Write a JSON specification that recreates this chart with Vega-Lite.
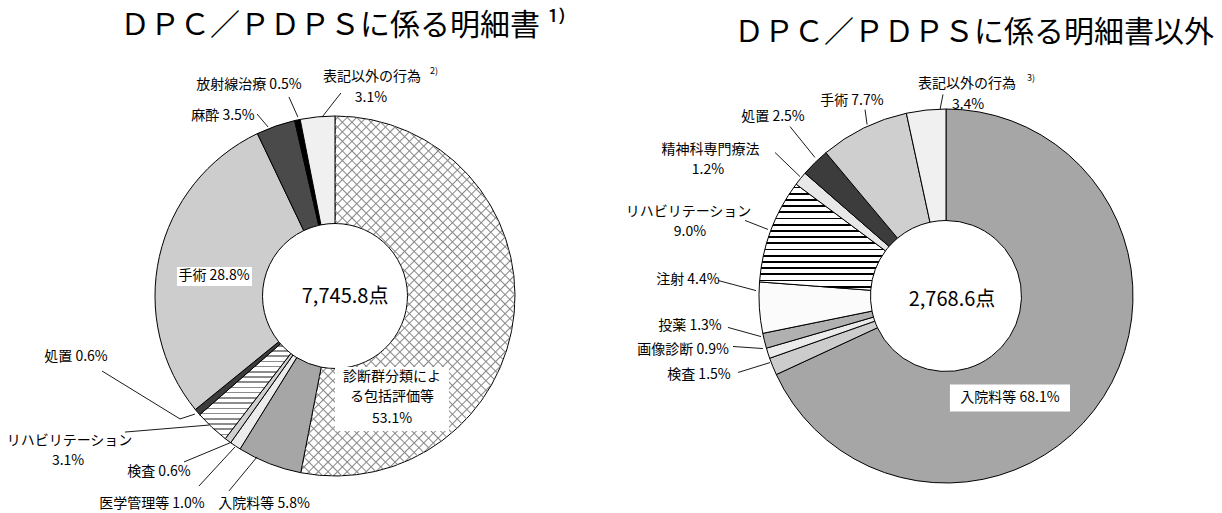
{
  "$schema": "https://vega.github.io/schema/vega-lite/v6.json",
  "padding": {"top": 11, "left": 0, "right": 0, "bottom": 0},
  "background": "white",
  "spacing": 0,
  "bounds": "flush",
  "config": {"font": "Noto Sans CJK JP", "view": {"stroke": null}, "text": {"font": "Noto Sans CJK JP"}},
  "resolve": {"scale": {"color": "independent", "x": "independent", "y": "independent"}},
  "datasets": {
    "leftSlices": [
      {"item": "診断群分類による包括評価等", "value": 53.1, "ord": 1},
      {"item": "入院料等", "value": 5.8, "ord": 2},
      {"item": "医学管理等", "value": 1.0, "ord": 3},
      {"item": "検査", "value": 0.6, "ord": 4},
      {"item": "リハビリテーション", "value": 3.1, "ord": 5},
      {"item": "処置", "value": 0.6, "ord": 6},
      {"item": "手術", "value": 28.8, "ord": 7},
      {"item": "麻酔", "value": 3.5, "ord": 8},
      {"item": "放射線治療", "value": 0.5, "ord": 9},
      {"item": "表記以外の行為", "value": 3.1, "ord": 10}
    ],
    "rightSlices": [
      {"item": "入院料等", "value": 68.1, "ord": 1},
      {"item": "検査", "value": 1.5, "ord": 2},
      {"item": "画像診断", "value": 0.9, "ord": 3},
      {"item": "投薬", "value": 1.3, "ord": 4},
      {"item": "注射", "value": 4.4, "ord": 5},
      {"item": "リハビリテーション", "value": 9.0, "ord": 6},
      {"item": "精神科専門療法", "value": 1.2, "ord": 7},
      {"item": "処置", "value": 2.5, "ord": 8},
      {"item": "手術", "value": 7.7, "ord": 9},
      {"item": "表記以外の行為", "value": 3.4, "ord": 10}
    ],
    "leftLabels": [
      {"t": "表記以外の行為", "x": 20.6, "y": 121.7},
      {"t": "3.1%", "x": 20, "y": 110},
      {"t": "放射線治療 0.5%", "x": -47.8, "y": 117},
      {"t": "麻酔 3.5%", "x": -62.2, "y": 100},
      {"t": "手術 28.8%", "x": -67.2, "y": 11.1},
      {"t": "診断群分類によ", "x": 31.7, "y": -45},
      {"t": "る包括評価等", "x": 31.7, "y": -56.1},
      {"t": "53.1%", "x": 31.7, "y": -68.3},
      {"t": "処置 0.6%", "x": -143.9, "y": -33.9},
      {"t": "リハビリテーション", "x": -147.5, "y": -80.6},
      {"t": "3.1%", "x": -148.3, "y": -91.7},
      {"t": "検査 0.6%", "x": -97.8, "y": -97.8},
      {"t": "医学管理等 1.0%", "x": -101.7, "y": -115.6},
      {"t": "入院料等 5.8%", "x": -39.4, "y": -115.6}
    ],
    "leftTotal": [{"t": "7,745.8点", "x": 5.6, "y": -0.6}],
    "leftSup": [{"t": "2)", "x": 55, "y": 125}],
    "leftLines": [
      {"x": 3.3, "y": 112.8, "x2": -7.2, "y2": 99.4},
      {"x": -25.6, "y": 110.6, "x2": -20.6, "y2": 99.4},
      {"x": -43.3, "y": 101.1, "x2": -37.2, "y2": 93.9},
      {"x": -129.4, "y": -41.7, "x2": -86.1, "y2": -68.3},
      {"x": -86.1, "y": -68.3, "x2": -77.8, "y2": -65.6},
      {"x": -116.7, "y": -75.6, "x2": -70, "y2": -71.7},
      {"x": -83.9, "y": -92.2, "x2": -57.2, "y2": -81.1},
      {"x": -75.6, "y": -105.6, "x2": -55.6, "y2": -83.9},
      {"x": -58.9, "y": -108.3, "x2": -43.3, "y2": -89.4}
    ],
    "leftBoxes": [
      {"x": -87.8, "y": 16.1, "x2": -46.1, "y2": 5.6},
      {"x": 0, "y": -39.4, "x2": 63.3, "y2": -75}
    ],
    "rightLabels": [
      {"t": "表記以外の行為", "x": 11.2, "y": 113.6},
      {"t": "3.4%", "x": 11.8, "y": 102.4},
      {"t": "手術 7.7%", "x": -50.3, "y": 104.5},
      {"t": "処置 2.5%", "x": -92.5, "y": 95.5},
      {"t": "精神科専門療法", "x": -125.9, "y": 78.3},
      {"t": "1.2%", "x": -127.3, "y": 67.6},
      {"t": "リハビリテーション", "x": -137.7, "y": 44.7},
      {"t": "9.0%", "x": -136.9, "y": 34},
      {"t": "注射 4.4%", "x": -138, "y": 8.8},
      {"t": "投薬 1.3%", "x": -136.9, "y": -15.8},
      {"t": "画像診断 0.9%", "x": -140.6, "y": -29.1},
      {"t": "検査 1.5%", "x": -132.1, "y": -42},
      {"t": "入院料等 68.1%", "x": 34.2, "y": -54.8}
    ],
    "rightTotal": [{"t": "2,768.6点", "x": 3.2, "y": -1.9}],
    "rightSup": [{"t": "3)", "x": 45.5, "y": 116.8}],
    "rightLines": [
      {"x": -1.6, "y": 107.8, "x2": -3.2, "y2": 99.7},
      {"x": -43.3, "y": 99.7, "x2": -42.2, "y2": 91.7},
      {"x": -83.4, "y": 90.6, "x2": -70.1, "y2": 74.1},
      {"x": -91.4, "y": 76.7, "x2": -78.1, "y2": 63.9},
      {"x": -107.5, "y": 40.4, "x2": -95.2, "y2": 35.6},
      {"x": -121.9, "y": 8.3, "x2": -101.6, "y2": 2.9},
      {"x": -116.6, "y": -16.8, "x2": -98.9, "y2": -21.7},
      {"x": -113.9, "y": -27, "x2": -97.9, "y2": -28.1},
      {"x": -111.2, "y": -40.9, "x2": -94.1, "y2": -35.6}
    ],
    "rightBoxes": [
      {"x": 2.1, "y": -47.3, "x2": 66.3, "y2": -61.8}
    ]
  },
  "hconcat": [
    {
      "width": 670,
      "height": 442,
      "title": {"text": "ＤＰＣ／ＰＤＰＳに係る明細書 ¹⁾", "fontSize": 30, "fontWeight": "normal", "color": "black", "offset": 26, "dx": 8, "anchor": "middle"},
      "layer": [
        {
          "data": {"name": "leftSlices"},
          "mark": {"type": "arc", "outerRadius": 180, "innerRadius": 72.5, "stroke": "black", "strokeWidth": 1},
          "encoding": {
            "theta": {"field": "value", "type": "quantitative", "stack": true},
            "order": {"field": "ord", "type": "quantitative"},
            "color": {
              "condition": [
                {"test": "datum.item === 'リハビリテーション'", "value": {"gradient": "linear", "x1": 0, "y1": 0, "x2": 0, "y2": 1, "stops": [
                {"offset": 0, "color": "white"},
                {"offset": 0.0127, "color": "white"}, {"offset": 0.0127, "color": "#8c8c8c"}, {"offset": 0.0296, "color": "#8c8c8c"}, {"offset": 0.0296, "color": "white"},
                {"offset": 0.0676, "color": "white"}, {"offset": 0.0676, "color": "#8c8c8c"}, {"offset": 0.0845, "color": "#8c8c8c"}, {"offset": 0.0845, "color": "white"},
                {"offset": 0.1225, "color": "white"}, {"offset": 0.1225, "color": "#8c8c8c"}, {"offset": 0.1394, "color": "#8c8c8c"}, {"offset": 0.1394, "color": "white"},
                {"offset": 0.1774, "color": "white"}, {"offset": 0.1774, "color": "#8c8c8c"}, {"offset": 0.1943, "color": "#8c8c8c"}, {"offset": 0.1943, "color": "white"},
                {"offset": 0.2323, "color": "white"}, {"offset": 0.2323, "color": "#8c8c8c"}, {"offset": 0.2492, "color": "#8c8c8c"}, {"offset": 0.2492, "color": "white"},
                {"offset": 0.2872, "color": "white"}, {"offset": 0.2872, "color": "#8c8c8c"}, {"offset": 0.3041, "color": "#8c8c8c"}, {"offset": 0.3041, "color": "white"},
                {"offset": 0.3421, "color": "white"}, {"offset": 0.3421, "color": "#8c8c8c"}, {"offset": 0.3590, "color": "#8c8c8c"}, {"offset": 0.3590, "color": "white"},
                {"offset": 0.3970, "color": "white"}, {"offset": 0.3970, "color": "#8c8c8c"}, {"offset": 0.4139, "color": "#8c8c8c"}, {"offset": 0.4139, "color": "white"},
                {"offset": 0.4520, "color": "white"}, {"offset": 0.4520, "color": "#8c8c8c"}, {"offset": 0.4688, "color": "#8c8c8c"}, {"offset": 0.4688, "color": "white"},
                {"offset": 0.5069, "color": "white"}, {"offset": 0.5069, "color": "#8c8c8c"}, {"offset": 0.5238, "color": "#8c8c8c"}, {"offset": 0.5238, "color": "white"},
                {"offset": 0.5618, "color": "white"}, {"offset": 0.5618, "color": "#8c8c8c"}, {"offset": 0.5787, "color": "#8c8c8c"}, {"offset": 0.5787, "color": "white"},
                {"offset": 0.6167, "color": "white"}, {"offset": 0.6167, "color": "#8c8c8c"}, {"offset": 0.6336, "color": "#8c8c8c"}, {"offset": 0.6336, "color": "white"},
                {"offset": 0.6716, "color": "white"}, {"offset": 0.6716, "color": "#8c8c8c"}, {"offset": 0.6885, "color": "#8c8c8c"}, {"offset": 0.6885, "color": "white"},
                {"offset": 0.7265, "color": "white"}, {"offset": 0.7265, "color": "#8c8c8c"}, {"offset": 0.7434, "color": "#8c8c8c"}, {"offset": 0.7434, "color": "white"},
                {"offset": 0.7814, "color": "white"}, {"offset": 0.7814, "color": "#8c8c8c"}, {"offset": 0.7983, "color": "#8c8c8c"}, {"offset": 0.7983, "color": "white"},
                {"offset": 0.8363, "color": "white"}, {"offset": 0.8363, "color": "#8c8c8c"}, {"offset": 0.8532, "color": "#8c8c8c"}, {"offset": 0.8532, "color": "white"},
                {"offset": 0.8913, "color": "white"}, {"offset": 0.8913, "color": "#8c8c8c"}, {"offset": 0.9081, "color": "#8c8c8c"}, {"offset": 0.9081, "color": "white"},
                {"offset": 0.9461, "color": "white"}, {"offset": 0.9461, "color": "#8c8c8c"}, {"offset": 0.9630, "color": "#8c8c8c"}, {"offset": 0.9630, "color": "white"},
                {"offset": 1, "color": "white"}
                ]}},
                {"test": "datum.item === '診断群分類による包括評価等'", "value": {"gradient": "linear", "x1": 0, "y1": 0, "x2": 0.7012, "y2": 1.178, "stops": [
                {"offset": 0, "color": "white"},
                {"offset": 0.0142, "color": "white"}, {"offset": 0.0167, "color": "#888"}, {"offset": 0.0192, "color": "white"},
                {"offset": 0.0308, "color": "white"}, {"offset": 0.0333, "color": "#888"}, {"offset": 0.0358, "color": "white"},
                {"offset": 0.0475, "color": "white"}, {"offset": 0.05, "color": "#888"}, {"offset": 0.0525, "color": "white"},
                {"offset": 0.0642, "color": "white"}, {"offset": 0.0667, "color": "#888"}, {"offset": 0.0692, "color": "white"},
                {"offset": 0.0808, "color": "white"}, {"offset": 0.0833, "color": "#888"}, {"offset": 0.0858, "color": "white"},
                {"offset": 0.0975, "color": "white"}, {"offset": 0.1, "color": "#888"}, {"offset": 0.1025, "color": "white"},
                {"offset": 0.1142, "color": "white"}, {"offset": 0.1167, "color": "#888"}, {"offset": 0.1192, "color": "white"},
                {"offset": 0.1308, "color": "white"}, {"offset": 0.1333, "color": "#888"}, {"offset": 0.1358, "color": "white"},
                {"offset": 0.1475, "color": "white"}, {"offset": 0.15, "color": "#888"}, {"offset": 0.1525, "color": "white"},
                {"offset": 0.1642, "color": "white"}, {"offset": 0.1667, "color": "#888"}, {"offset": 0.1692, "color": "white"},
                {"offset": 0.1808, "color": "white"}, {"offset": 0.1833, "color": "#888"}, {"offset": 0.1858, "color": "white"},
                {"offset": 0.1975, "color": "white"}, {"offset": 0.2, "color": "#888"}, {"offset": 0.2025, "color": "white"},
                {"offset": 0.2142, "color": "white"}, {"offset": 0.2167, "color": "#888"}, {"offset": 0.2192, "color": "white"},
                {"offset": 0.2308, "color": "white"}, {"offset": 0.2333, "color": "#888"}, {"offset": 0.2358, "color": "white"},
                {"offset": 0.2475, "color": "white"}, {"offset": 0.25, "color": "#888"}, {"offset": 0.2525, "color": "white"},
                {"offset": 0.2642, "color": "white"}, {"offset": 0.2667, "color": "#888"}, {"offset": 0.2692, "color": "white"},
                {"offset": 0.2808, "color": "white"}, {"offset": 0.2833, "color": "#888"}, {"offset": 0.2858, "color": "white"},
                {"offset": 0.2975, "color": "white"}, {"offset": 0.3, "color": "#888"}, {"offset": 0.3025, "color": "white"},
                {"offset": 0.3142, "color": "white"}, {"offset": 0.3167, "color": "#888"}, {"offset": 0.3192, "color": "white"},
                {"offset": 0.3308, "color": "white"}, {"offset": 0.3333, "color": "#888"}, {"offset": 0.3358, "color": "white"},
                {"offset": 0.3475, "color": "white"}, {"offset": 0.35, "color": "#888"}, {"offset": 0.3525, "color": "white"},
                {"offset": 0.3642, "color": "white"}, {"offset": 0.3667, "color": "#888"}, {"offset": 0.3692, "color": "white"},
                {"offset": 0.3808, "color": "white"}, {"offset": 0.3833, "color": "#888"}, {"offset": 0.3858, "color": "white"},
                {"offset": 0.3975, "color": "white"}, {"offset": 0.4, "color": "#888"}, {"offset": 0.4025, "color": "white"},
                {"offset": 0.4142, "color": "white"}, {"offset": 0.4167, "color": "#888"}, {"offset": 0.4192, "color": "white"},
                {"offset": 0.4308, "color": "white"}, {"offset": 0.4333, "color": "#888"}, {"offset": 0.4358, "color": "white"},
                {"offset": 0.4475, "color": "white"}, {"offset": 0.45, "color": "#888"}, {"offset": 0.4525, "color": "white"},
                {"offset": 0.4642, "color": "white"}, {"offset": 0.4667, "color": "#888"}, {"offset": 0.4692, "color": "white"},
                {"offset": 0.4808, "color": "white"}, {"offset": 0.4833, "color": "#888"}, {"offset": 0.4858, "color": "white"},
                {"offset": 0.4975, "color": "white"}, {"offset": 0.5, "color": "#888"}, {"offset": 0.5025, "color": "white"},
                {"offset": 0.5142, "color": "white"}, {"offset": 0.5167, "color": "#888"}, {"offset": 0.5192, "color": "white"},
                {"offset": 0.5308, "color": "white"}, {"offset": 0.5333, "color": "#888"}, {"offset": 0.5358, "color": "white"},
                {"offset": 0.5475, "color": "white"}, {"offset": 0.55, "color": "#888"}, {"offset": 0.5525, "color": "white"},
                {"offset": 0.5642, "color": "white"}, {"offset": 0.5667, "color": "#888"}, {"offset": 0.5692, "color": "white"},
                {"offset": 0.5808, "color": "white"}, {"offset": 0.5833, "color": "#888"}, {"offset": 0.5858, "color": "white"},
                {"offset": 0.5975, "color": "white"}, {"offset": 0.6, "color": "#888"}, {"offset": 0.6025, "color": "white"},
                {"offset": 0.6142, "color": "white"}, {"offset": 0.6167, "color": "#888"}, {"offset": 0.6192, "color": "white"},
                {"offset": 0.6308, "color": "white"}, {"offset": 0.6333, "color": "#888"}, {"offset": 0.6358, "color": "white"},
                {"offset": 0.6475, "color": "white"}, {"offset": 0.65, "color": "#888"}, {"offset": 0.6525, "color": "white"},
                {"offset": 0.6642, "color": "white"}, {"offset": 0.6667, "color": "#888"}, {"offset": 0.6692, "color": "white"},
                {"offset": 0.6808, "color": "white"}, {"offset": 0.6833, "color": "#888"}, {"offset": 0.6858, "color": "white"},
                {"offset": 0.6975, "color": "white"}, {"offset": 0.7, "color": "#888"}, {"offset": 0.7025, "color": "white"},
                {"offset": 0.7142, "color": "white"}, {"offset": 0.7167, "color": "#888"}, {"offset": 0.7192, "color": "white"},
                {"offset": 0.7308, "color": "white"}, {"offset": 0.7333, "color": "#888"}, {"offset": 0.7358, "color": "white"},
                {"offset": 0.7475, "color": "white"}, {"offset": 0.75, "color": "#888"}, {"offset": 0.7525, "color": "white"},
                {"offset": 0.7642, "color": "white"}, {"offset": 0.7667, "color": "#888"}, {"offset": 0.7692, "color": "white"},
                {"offset": 0.7808, "color": "white"}, {"offset": 0.7833, "color": "#888"}, {"offset": 0.7858, "color": "white"},
                {"offset": 0.7975, "color": "white"}, {"offset": 0.8, "color": "#888"}, {"offset": 0.8025, "color": "white"},
                {"offset": 0.8142, "color": "white"}, {"offset": 0.8167, "color": "#888"}, {"offset": 0.8192, "color": "white"},
                {"offset": 0.8308, "color": "white"}, {"offset": 0.8333, "color": "#888"}, {"offset": 0.8358, "color": "white"},
                {"offset": 0.8475, "color": "white"}, {"offset": 0.85, "color": "#888"}, {"offset": 0.8525, "color": "white"},
                {"offset": 0.8642, "color": "white"}, {"offset": 0.8667, "color": "#888"}, {"offset": 0.8692, "color": "white"},
                {"offset": 0.8808, "color": "white"}, {"offset": 0.8833, "color": "#888"}, {"offset": 0.8858, "color": "white"},
                {"offset": 0.8975, "color": "white"}, {"offset": 0.9, "color": "#888"}, {"offset": 0.9025, "color": "white"},
                {"offset": 0.9142, "color": "white"}, {"offset": 0.9167, "color": "#888"}, {"offset": 0.9192, "color": "white"},
                {"offset": 0.9308, "color": "white"}, {"offset": 0.9333, "color": "#888"}, {"offset": 0.9358, "color": "white"},
                {"offset": 0.9475, "color": "white"}, {"offset": 0.95, "color": "#888"}, {"offset": 0.9525, "color": "white"},
                {"offset": 0.9642, "color": "white"}, {"offset": 0.9667, "color": "#888"}, {"offset": 0.9692, "color": "white"},
                {"offset": 0.9808, "color": "white"}, {"offset": 0.9833, "color": "#888"}, {"offset": 0.9858, "color": "white"},
                {"offset": 1, "color": "white"}
                ]}}
              ],
              "field": "item", "type": "nominal", "legend": null,
              "scale": {"domain": ["診断群分類による包括評価等", "入院料等", "医学管理等", "検査", "リハビリテーション", "処置", "手術", "麻酔", "放射線治療", "表記以外の行為"],
                        "range": ["#d6d6d6", "#a6a6a6", "#ececec", "#d0d0d0", "#d4d4d4", "#3c3c3c", "#cdcdcd", "#4a4a4a", "#000000", "#f0f0f0"]}
            }
          }
        },
        {
          "data": {"name": "leftSlices"},
          "mark": {"type": "arc", "outerRadius": 180, "innerRadius": 72.5, "strokeWidth": 0},
          "encoding": {
            "theta": {"field": "value", "type": "quantitative", "stack": true},
            "order": {"field": "ord", "type": "quantitative"},
            "detail": {"field": "item", "type": "nominal"},
            "color": {
              "condition": {"test": "datum.item === '診断群分類による包括評価等'", "value": {"gradient": "linear", "x1": 0, "y1": 1.178, "x2": 0.7012, "y2": 0, "stops": [
                {"offset": 0, "color": "rgba(136,136,136,0)"},
                {"offset": 0.0142, "color": "rgba(136,136,136,0)"}, {"offset": 0.0167, "color": "#888"}, {"offset": 0.0192, "color": "rgba(136,136,136,0)"},
                {"offset": 0.0308, "color": "rgba(136,136,136,0)"}, {"offset": 0.0333, "color": "#888"}, {"offset": 0.0358, "color": "rgba(136,136,136,0)"},
                {"offset": 0.0475, "color": "rgba(136,136,136,0)"}, {"offset": 0.05, "color": "#888"}, {"offset": 0.0525, "color": "rgba(136,136,136,0)"},
                {"offset": 0.0642, "color": "rgba(136,136,136,0)"}, {"offset": 0.0667, "color": "#888"}, {"offset": 0.0692, "color": "rgba(136,136,136,0)"},
                {"offset": 0.0808, "color": "rgba(136,136,136,0)"}, {"offset": 0.0833, "color": "#888"}, {"offset": 0.0858, "color": "rgba(136,136,136,0)"},
                {"offset": 0.0975, "color": "rgba(136,136,136,0)"}, {"offset": 0.1, "color": "#888"}, {"offset": 0.1025, "color": "rgba(136,136,136,0)"},
                {"offset": 0.1142, "color": "rgba(136,136,136,0)"}, {"offset": 0.1167, "color": "#888"}, {"offset": 0.1192, "color": "rgba(136,136,136,0)"},
                {"offset": 0.1308, "color": "rgba(136,136,136,0)"}, {"offset": 0.1333, "color": "#888"}, {"offset": 0.1358, "color": "rgba(136,136,136,0)"},
                {"offset": 0.1475, "color": "rgba(136,136,136,0)"}, {"offset": 0.15, "color": "#888"}, {"offset": 0.1525, "color": "rgba(136,136,136,0)"},
                {"offset": 0.1642, "color": "rgba(136,136,136,0)"}, {"offset": 0.1667, "color": "#888"}, {"offset": 0.1692, "color": "rgba(136,136,136,0)"},
                {"offset": 0.1808, "color": "rgba(136,136,136,0)"}, {"offset": 0.1833, "color": "#888"}, {"offset": 0.1858, "color": "rgba(136,136,136,0)"},
                {"offset": 0.1975, "color": "rgba(136,136,136,0)"}, {"offset": 0.2, "color": "#888"}, {"offset": 0.2025, "color": "rgba(136,136,136,0)"},
                {"offset": 0.2142, "color": "rgba(136,136,136,0)"}, {"offset": 0.2167, "color": "#888"}, {"offset": 0.2192, "color": "rgba(136,136,136,0)"},
                {"offset": 0.2308, "color": "rgba(136,136,136,0)"}, {"offset": 0.2333, "color": "#888"}, {"offset": 0.2358, "color": "rgba(136,136,136,0)"},
                {"offset": 0.2475, "color": "rgba(136,136,136,0)"}, {"offset": 0.25, "color": "#888"}, {"offset": 0.2525, "color": "rgba(136,136,136,0)"},
                {"offset": 0.2642, "color": "rgba(136,136,136,0)"}, {"offset": 0.2667, "color": "#888"}, {"offset": 0.2692, "color": "rgba(136,136,136,0)"},
                {"offset": 0.2808, "color": "rgba(136,136,136,0)"}, {"offset": 0.2833, "color": "#888"}, {"offset": 0.2858, "color": "rgba(136,136,136,0)"},
                {"offset": 0.2975, "color": "rgba(136,136,136,0)"}, {"offset": 0.3, "color": "#888"}, {"offset": 0.3025, "color": "rgba(136,136,136,0)"},
                {"offset": 0.3142, "color": "rgba(136,136,136,0)"}, {"offset": 0.3167, "color": "#888"}, {"offset": 0.3192, "color": "rgba(136,136,136,0)"},
                {"offset": 0.3308, "color": "rgba(136,136,136,0)"}, {"offset": 0.3333, "color": "#888"}, {"offset": 0.3358, "color": "rgba(136,136,136,0)"},
                {"offset": 0.3475, "color": "rgba(136,136,136,0)"}, {"offset": 0.35, "color": "#888"}, {"offset": 0.3525, "color": "rgba(136,136,136,0)"},
                {"offset": 0.3642, "color": "rgba(136,136,136,0)"}, {"offset": 0.3667, "color": "#888"}, {"offset": 0.3692, "color": "rgba(136,136,136,0)"},
                {"offset": 0.3808, "color": "rgba(136,136,136,0)"}, {"offset": 0.3833, "color": "#888"}, {"offset": 0.3858, "color": "rgba(136,136,136,0)"},
                {"offset": 0.3975, "color": "rgba(136,136,136,0)"}, {"offset": 0.4, "color": "#888"}, {"offset": 0.4025, "color": "rgba(136,136,136,0)"},
                {"offset": 0.4142, "color": "rgba(136,136,136,0)"}, {"offset": 0.4167, "color": "#888"}, {"offset": 0.4192, "color": "rgba(136,136,136,0)"},
                {"offset": 0.4308, "color": "rgba(136,136,136,0)"}, {"offset": 0.4333, "color": "#888"}, {"offset": 0.4358, "color": "rgba(136,136,136,0)"},
                {"offset": 0.4475, "color": "rgba(136,136,136,0)"}, {"offset": 0.45, "color": "#888"}, {"offset": 0.4525, "color": "rgba(136,136,136,0)"},
                {"offset": 0.4642, "color": "rgba(136,136,136,0)"}, {"offset": 0.4667, "color": "#888"}, {"offset": 0.4692, "color": "rgba(136,136,136,0)"},
                {"offset": 0.4808, "color": "rgba(136,136,136,0)"}, {"offset": 0.4833, "color": "#888"}, {"offset": 0.4858, "color": "rgba(136,136,136,0)"},
                {"offset": 0.4975, "color": "rgba(136,136,136,0)"}, {"offset": 0.5, "color": "#888"}, {"offset": 0.5025, "color": "rgba(136,136,136,0)"},
                {"offset": 0.5142, "color": "rgba(136,136,136,0)"}, {"offset": 0.5167, "color": "#888"}, {"offset": 0.5192, "color": "rgba(136,136,136,0)"},
                {"offset": 0.5308, "color": "rgba(136,136,136,0)"}, {"offset": 0.5333, "color": "#888"}, {"offset": 0.5358, "color": "rgba(136,136,136,0)"},
                {"offset": 0.5475, "color": "rgba(136,136,136,0)"}, {"offset": 0.55, "color": "#888"}, {"offset": 0.5525, "color": "rgba(136,136,136,0)"},
                {"offset": 0.5642, "color": "rgba(136,136,136,0)"}, {"offset": 0.5667, "color": "#888"}, {"offset": 0.5692, "color": "rgba(136,136,136,0)"},
                {"offset": 0.5808, "color": "rgba(136,136,136,0)"}, {"offset": 0.5833, "color": "#888"}, {"offset": 0.5858, "color": "rgba(136,136,136,0)"},
                {"offset": 0.5975, "color": "rgba(136,136,136,0)"}, {"offset": 0.6, "color": "#888"}, {"offset": 0.6025, "color": "rgba(136,136,136,0)"},
                {"offset": 0.6142, "color": "rgba(136,136,136,0)"}, {"offset": 0.6167, "color": "#888"}, {"offset": 0.6192, "color": "rgba(136,136,136,0)"},
                {"offset": 0.6308, "color": "rgba(136,136,136,0)"}, {"offset": 0.6333, "color": "#888"}, {"offset": 0.6358, "color": "rgba(136,136,136,0)"},
                {"offset": 0.6475, "color": "rgba(136,136,136,0)"}, {"offset": 0.65, "color": "#888"}, {"offset": 0.6525, "color": "rgba(136,136,136,0)"},
                {"offset": 0.6642, "color": "rgba(136,136,136,0)"}, {"offset": 0.6667, "color": "#888"}, {"offset": 0.6692, "color": "rgba(136,136,136,0)"},
                {"offset": 0.6808, "color": "rgba(136,136,136,0)"}, {"offset": 0.6833, "color": "#888"}, {"offset": 0.6858, "color": "rgba(136,136,136,0)"},
                {"offset": 0.6975, "color": "rgba(136,136,136,0)"}, {"offset": 0.7, "color": "#888"}, {"offset": 0.7025, "color": "rgba(136,136,136,0)"},
                {"offset": 0.7142, "color": "rgba(136,136,136,0)"}, {"offset": 0.7167, "color": "#888"}, {"offset": 0.7192, "color": "rgba(136,136,136,0)"},
                {"offset": 0.7308, "color": "rgba(136,136,136,0)"}, {"offset": 0.7333, "color": "#888"}, {"offset": 0.7358, "color": "rgba(136,136,136,0)"},
                {"offset": 0.7475, "color": "rgba(136,136,136,0)"}, {"offset": 0.75, "color": "#888"}, {"offset": 0.7525, "color": "rgba(136,136,136,0)"},
                {"offset": 0.7642, "color": "rgba(136,136,136,0)"}, {"offset": 0.7667, "color": "#888"}, {"offset": 0.7692, "color": "rgba(136,136,136,0)"},
                {"offset": 0.7808, "color": "rgba(136,136,136,0)"}, {"offset": 0.7833, "color": "#888"}, {"offset": 0.7858, "color": "rgba(136,136,136,0)"},
                {"offset": 0.7975, "color": "rgba(136,136,136,0)"}, {"offset": 0.8, "color": "#888"}, {"offset": 0.8025, "color": "rgba(136,136,136,0)"},
                {"offset": 0.8142, "color": "rgba(136,136,136,0)"}, {"offset": 0.8167, "color": "#888"}, {"offset": 0.8192, "color": "rgba(136,136,136,0)"},
                {"offset": 0.8308, "color": "rgba(136,136,136,0)"}, {"offset": 0.8333, "color": "#888"}, {"offset": 0.8358, "color": "rgba(136,136,136,0)"},
                {"offset": 0.8475, "color": "rgba(136,136,136,0)"}, {"offset": 0.85, "color": "#888"}, {"offset": 0.8525, "color": "rgba(136,136,136,0)"},
                {"offset": 0.8642, "color": "rgba(136,136,136,0)"}, {"offset": 0.8667, "color": "#888"}, {"offset": 0.8692, "color": "rgba(136,136,136,0)"},
                {"offset": 0.8808, "color": "rgba(136,136,136,0)"}, {"offset": 0.8833, "color": "#888"}, {"offset": 0.8858, "color": "rgba(136,136,136,0)"},
                {"offset": 0.8975, "color": "rgba(136,136,136,0)"}, {"offset": 0.9, "color": "#888"}, {"offset": 0.9025, "color": "rgba(136,136,136,0)"},
                {"offset": 0.9142, "color": "rgba(136,136,136,0)"}, {"offset": 0.9167, "color": "#888"}, {"offset": 0.9192, "color": "rgba(136,136,136,0)"},
                {"offset": 0.9308, "color": "rgba(136,136,136,0)"}, {"offset": 0.9333, "color": "#888"}, {"offset": 0.9358, "color": "rgba(136,136,136,0)"},
                {"offset": 0.9475, "color": "rgba(136,136,136,0)"}, {"offset": 0.95, "color": "#888"}, {"offset": 0.9525, "color": "rgba(136,136,136,0)"},
                {"offset": 0.9642, "color": "rgba(136,136,136,0)"}, {"offset": 0.9667, "color": "#888"}, {"offset": 0.9692, "color": "rgba(136,136,136,0)"},
                {"offset": 0.9808, "color": "rgba(136,136,136,0)"}, {"offset": 0.9833, "color": "#888"}, {"offset": 0.9858, "color": "rgba(136,136,136,0)"},
                {"offset": 1, "color": "rgba(136,136,136,0)"}
              ]}},
              "value": "transparent"
            }
          }
        },
        {
          "data": {"name": "leftBoxes"},
          "mark": {"type": "rect", "fill": "white"},
          "encoding": {
            "x": {"field": "x", "type": "quantitative", "scale": {"domain": [-186.11, 186.11], "nice": false, "zero": false}, "axis": null},
            "x2": {"field": "x2"},
            "y": {"field": "y", "type": "quantitative", "scale": {"domain": [-122.78, 122.78], "nice": false, "zero": false}, "axis": null},
            "y2": {"field": "y2"}
          }
        },
        {
          "data": {"name": "leftLines"},
          "mark": {"type": "rule", "color": "black", "strokeWidth": 0.9},
          "encoding": {
            "x": {"field": "x", "type": "quantitative", "scale": {"domain": [-186.11, 186.11], "nice": false, "zero": false}, "axis": null},
            "x2": {"field": "x2"},
            "y": {"field": "y", "type": "quantitative", "scale": {"domain": [-122.78, 122.78], "nice": false, "zero": false}, "axis": null},
            "y2": {"field": "y2"}
          }
        },
        {
          "data": {"name": "leftLabels"},
          "mark": {"type": "text", "fontSize": 14, "color": "black", "align": "center", "baseline": "middle"},
          "encoding": {
            "x": {"field": "x", "type": "quantitative", "scale": {"domain": [-186.11, 186.11], "nice": false, "zero": false}, "axis": null},
            "y": {"field": "y", "type": "quantitative", "scale": {"domain": [-122.78, 122.78], "nice": false, "zero": false}, "axis": null},
            "text": {"field": "t"}
          }
        },
        {
          "data": {"name": "leftTotal"},
          "mark": {"type": "text", "fontSize": 20, "color": "black", "align": "center", "baseline": "middle"},
          "encoding": {
            "x": {"field": "x", "type": "quantitative", "scale": {"domain": [-186.11, 186.11], "nice": false, "zero": false}, "axis": null},
            "y": {"field": "y", "type": "quantitative", "scale": {"domain": [-122.78, 122.78], "nice": false, "zero": false}, "axis": null},
            "text": {"field": "t"}
          }
        },
        {
          "data": {"name": "leftSup"},
          "mark": {"type": "text", "fontSize": 9, "color": "black", "align": "center", "baseline": "middle"},
          "encoding": {
            "x": {"field": "x", "type": "quantitative", "scale": {"domain": [-186.11, 186.11], "nice": false, "zero": false}, "axis": null},
            "y": {"field": "y", "type": "quantitative", "scale": {"domain": [-122.78, 122.78], "nice": false, "zero": false}, "axis": null},
            "text": {"field": "t"}
          }
        }
      ]
    },
    {
      "width": 552,
      "height": 442,
      "title": {"text": "ＤＰＣ／ＰＤＰＳに係る明細書以外", "fontSize": 30, "fontWeight": "normal", "color": "black", "offset": 26, "dx": 28, "anchor": "middle"},
      "layer": [
        {
          "data": {"name": "rightSlices"},
          "mark": {"type": "arc", "outerRadius": 187, "innerRadius": 75.5, "stroke": "black", "strokeWidth": 1},
          "encoding": {
            "theta": {"field": "value", "type": "quantitative", "stack": true},
            "order": {"field": "ord", "type": "quantitative"},
            "color": {
              "condition": {"test": "datum.item === 'リハビリテーション'", "value": {"gradient": "linear", "x1": 0, "y1": 0, "x2": 0, "y2": 1, "stops": [
                {"offset": 0, "color": "white"},
                {"offset": 0.0235, "color": "white"}, {"offset": 0.0235, "color": "black"}, {"offset": 0.0405, "color": "black"}, {"offset": 0.0405, "color": "white"},
                {"offset": 0.0819, "color": "white"}, {"offset": 0.0819, "color": "black"}, {"offset": 0.0989, "color": "black"}, {"offset": 0.0989, "color": "white"},
                {"offset": 0.1403, "color": "white"}, {"offset": 0.1403, "color": "black"}, {"offset": 0.1573, "color": "black"}, {"offset": 0.1573, "color": "white"},
                {"offset": 0.1987, "color": "white"}, {"offset": 0.1987, "color": "black"}, {"offset": 0.2156, "color": "black"}, {"offset": 0.2156, "color": "white"},
                {"offset": 0.2571, "color": "white"}, {"offset": 0.2571, "color": "black"}, {"offset": 0.2740, "color": "black"}, {"offset": 0.2740, "color": "white"},
                {"offset": 0.3154, "color": "white"}, {"offset": 0.3154, "color": "black"}, {"offset": 0.3324, "color": "black"}, {"offset": 0.3324, "color": "white"},
                {"offset": 0.3738, "color": "white"}, {"offset": 0.3738, "color": "black"}, {"offset": 0.3908, "color": "black"}, {"offset": 0.3908, "color": "white"},
                {"offset": 0.4322, "color": "white"}, {"offset": 0.4322, "color": "black"}, {"offset": 0.4492, "color": "black"}, {"offset": 0.4492, "color": "white"},
                {"offset": 0.4906, "color": "white"}, {"offset": 0.4906, "color": "black"}, {"offset": 0.5075, "color": "black"}, {"offset": 0.5075, "color": "white"},
                {"offset": 0.5490, "color": "white"}, {"offset": 0.5490, "color": "black"}, {"offset": 0.5659, "color": "black"}, {"offset": 0.5659, "color": "white"},
                {"offset": 0.6073, "color": "white"}, {"offset": 0.6073, "color": "black"}, {"offset": 0.6243, "color": "black"}, {"offset": 0.6243, "color": "white"},
                {"offset": 0.6657, "color": "white"}, {"offset": 0.6657, "color": "black"}, {"offset": 0.6827, "color": "black"}, {"offset": 0.6827, "color": "white"},
                {"offset": 0.7241, "color": "white"}, {"offset": 0.7241, "color": "black"}, {"offset": 0.7411, "color": "black"}, {"offset": 0.7411, "color": "white"},
                {"offset": 0.7825, "color": "white"}, {"offset": 0.7825, "color": "black"}, {"offset": 0.7994, "color": "black"}, {"offset": 0.7994, "color": "white"},
                {"offset": 0.8409, "color": "white"}, {"offset": 0.8409, "color": "black"}, {"offset": 0.8578, "color": "black"}, {"offset": 0.8578, "color": "white"},
                {"offset": 0.8992, "color": "white"}, {"offset": 0.8992, "color": "black"}, {"offset": 0.9162, "color": "black"}, {"offset": 0.9162, "color": "white"},
                {"offset": 0.9576, "color": "white"}, {"offset": 0.9576, "color": "black"}, {"offset": 0.9746, "color": "black"}, {"offset": 0.9746, "color": "white"},
                {"offset": 1, "color": "white"}
              ]}},
              "field": "item", "type": "nominal", "legend": null,
              "scale": {"domain": ["入院料等", "検査", "画像診断", "投薬", "注射", "リハビリテーション", "精神科専門療法", "処置", "手術", "表記以外の行為"],
                        "range": ["#a6a6a6", "#cccccc", "#ebebeb", "#b0b0b0", "#fbfbfb", "#9a9a9a", "#e8e8e8", "#3c3c3c", "#cfcfcf", "#f0f0f0"]}
            }
          }
        },
        {
          "data": {"name": "rightBoxes"},
          "mark": {"type": "rect", "fill": "white"},
          "encoding": {
            "x": {"field": "x", "type": "quantitative", "scale": {"domain": [-147.59, 147.59], "nice": false, "zero": false}, "axis": null},
            "x2": {"field": "x2"},
            "y": {"field": "y", "type": "quantitative", "scale": {"domain": [-118.18, 118.18], "nice": false, "zero": false}, "axis": null},
            "y2": {"field": "y2"}
          }
        },
        {
          "data": {"name": "rightLines"},
          "mark": {"type": "rule", "color": "black", "strokeWidth": 0.9},
          "encoding": {
            "x": {"field": "x", "type": "quantitative", "scale": {"domain": [-147.59, 147.59], "nice": false, "zero": false}, "axis": null},
            "x2": {"field": "x2"},
            "y": {"field": "y", "type": "quantitative", "scale": {"domain": [-118.18, 118.18], "nice": false, "zero": false}, "axis": null},
            "y2": {"field": "y2"}
          }
        },
        {
          "data": {"name": "rightLabels"},
          "mark": {"type": "text", "fontSize": 14, "color": "black", "align": "center", "baseline": "middle"},
          "encoding": {
            "x": {"field": "x", "type": "quantitative", "scale": {"domain": [-147.59, 147.59], "nice": false, "zero": false}, "axis": null},
            "y": {"field": "y", "type": "quantitative", "scale": {"domain": [-118.18, 118.18], "nice": false, "zero": false}, "axis": null},
            "text": {"field": "t"}
          }
        },
        {
          "data": {"name": "rightTotal"},
          "mark": {"type": "text", "fontSize": 20, "color": "black", "align": "center", "baseline": "middle"},
          "encoding": {
            "x": {"field": "x", "type": "quantitative", "scale": {"domain": [-147.59, 147.59], "nice": false, "zero": false}, "axis": null},
            "y": {"field": "y", "type": "quantitative", "scale": {"domain": [-118.18, 118.18], "nice": false, "zero": false}, "axis": null},
            "text": {"field": "t"}
          }
        },
        {
          "data": {"name": "rightSup"},
          "mark": {"type": "text", "fontSize": 9, "color": "black", "align": "center", "baseline": "middle"},
          "encoding": {
            "x": {"field": "x", "type": "quantitative", "scale": {"domain": [-147.59, 147.59], "nice": false, "zero": false}, "axis": null},
            "y": {"field": "y", "type": "quantitative", "scale": {"domain": [-118.18, 118.18], "nice": false, "zero": false}, "axis": null},
            "text": {"field": "t"}
          }
        }
      ]
    }
  ]
}
